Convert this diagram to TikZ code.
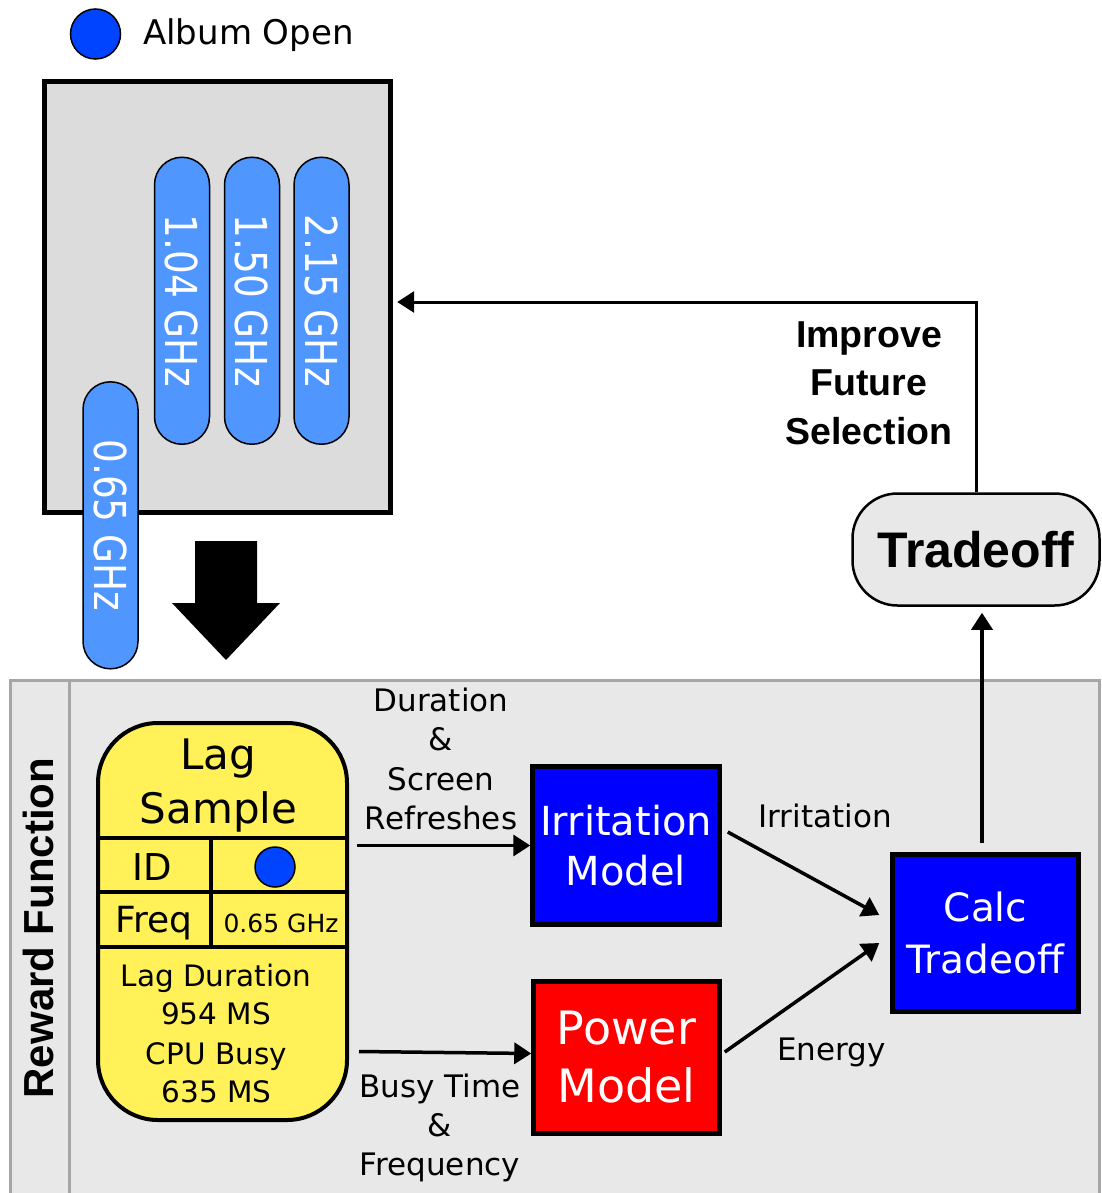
\documentclass[tikz,border=0pt]{standalone}
\usepackage{fontspec}
\setmainfont{DejaVu Sans}
\newfontfamily\arialfont{Liberation Sans}
\usetikzlibrary{arrows.meta,positioning,calc}

\definecolor{albumblue}{RGB}{0,68,255}
\definecolor{pillblue}{RGB}{80,150,255}
\definecolor{cpugray}{RGB}{220,220,220}
\definecolor{panelgray}{RGB}{232,232,232}
\definecolor{framegray}{RGB}{166,166,166}
\definecolor{lagyellow}{RGB}{255,241,87}

\newcommand{\fs}[2]{\fontsize{#1}{#2}\selectfont}

\begin{document}
\begin{tikzpicture}[x=1pt,y=-1pt,
    arr/.style={line width=3.5, -{Triangle[length=17pt,width=21pt]}},
    pill/.style={draw=black, line width=1.5, fill=pillblue, rounded corners=27.5,
        minimum width=287, minimum height=55, inner sep=0, rotate=-90,
        text=white, font=\fs{44}{50}},
    modelbox/.style={draw=black, line width=4.5, minimum width=187, minimum height=158,
        inner sep=0, text=white, align=center},
    lbl/.style={inner sep=0, align=center, font=\fs{31}{39.5}},
    plain/.style={anchor=base, inner sep=0},
    lagtxt/.style={inner sep=0, align=center, font=\fs{29.5}{38}}]

    \useasboundingbox (0,0) rectangle (1101,1193);
    \clip (0,0) rectangle (1101,1193);

    % Reward function panel
    \draw[framegray, line width=3, fill=panelgray] (10,680) rectangle (1099,1215);
    \draw[framegray, line width=3] (69,680) -- (69,1215);
    \node[rotate=90, inner sep=0, font=\arialfont\bfseries\fs{42}{50}] (rewardlbl) at (38,928) {Reward Function};

    % Legend
    \node[circle, draw, line width=1.5, fill=albumblue, minimum size=50, inner sep=0] (albumdot) at (95.5,34) {};
    \node[anchor=base west, inner sep=0, font=\fs{34}{40}] (albumlbl) at (143,45) {Album Open};

    % CPU box with frequencies
    \node[draw, line width=5, fill=cpugray, minimum width=346, minimum height=431, inner sep=0] (cpu) at (217.2,297) {};
    \node[pill] (f104) at (182,300.75) {\scalebox{0.85}[1]{1.04 GHz}};
    \node[pill] (f150) at (252,300.75) {\scalebox{0.85}[1]{1.50 GHz}};
    \node[pill] (f215) at (321.5,300.75) {\scalebox{0.85}[1]{2.15 GHz}};
    \node[pill] (f065) at (110.5,525.3) {\scalebox{0.85}[1]{0.65 GHz}};

    % Big arrow down
    \fill (195,541) -- (257,541) -- (257,603) -- (280,603) -- (226,660) -- (172,603) -- (195,603) -- cycle;

    % Lag sample
    \node[draw, line width=4, fill=lagyellow, rounded corners=60, minimum width=249, minimum height=397, inner sep=0] (lag) at (222.5,921.5) {};
    \draw[line width=4] (lag.west |- 0,838) -- (lag.east |- 0,838);
    \draw[line width=4] (lag.west |- 0,892) -- (lag.east |- 0,892);
    \draw[line width=4] (lag.west |- 0,947) -- (lag.east |- 0,947);
    \draw[line width=4] (211,838) -- (211,949);
    \node[inner sep=0, align=center, font=\fs{42}{54}] (lagtitle) at (218.5,786) {Lag\\Sample};
    \node[plain, font=\fs{37}{40}] (idlbl) at (152,880) {ID};
    \node[circle, draw, line width=1.5, fill=albumblue, minimum size=40, inner sep=0] (iddot) at (275,867) {};
    \node[plain, font=\fs{36}{40}] (freqlbl) at (154,932) {Freq};
    \node[plain, font=\fs{25}{30}] (freqval) at (281,932) {0.65 GHz};
    \node[lagtxt] (lagdur) at (216,994) {Lag Duration\\954 MS};
    \node[lagtxt] (cpubusy) at (216.5,1073) {CPU Busy\\635 MS};

    % Models
    \node[modelbox, fill=blue, font=\fs{40}{50}] (irr) at (626,845.5) {Irritation\\Model};
    \node[modelbox, fill=red, minimum width=186, minimum height=152, font=\fs{46}{58}] (pow) at (626.5,1057.5) {Power\\Model};
    \node[modelbox, fill=blue, minimum width=186, minimum height=157, font=\fs{39}{52}] (calcbox) at (985.5,933) {Calc\\Tradeoff};
    \node[draw, line width=2.5, fill=panelgray, rounded corners=45, minimum width=247, minimum height=112, inner sep=0,
        font=\arialfont\bfseries\fs{50}{60}] (trade) at (976,549.5) {Tradeoff};

    % Labels
    \node[lbl] (durlbl) at (441,759) {Duration\\\&\\Screen\\Refreshes};
    \node[lbl, font=\fs{31}{39}] (busylbl) at (440,1128) {Busy Time\\\&\\Frequency};
    \node[plain, font=\fs{31}{36}] (irrlbl) at (825,827) {Irritation};
    \node[plain, font=\fs{31}{36}] (energylbl) at (831.5,1060) {Energy};
    \node[inner sep=0, align=center, font=\arialfont\bfseries\fs{37.5}{48.5}] (improvelbl) at (869,383) {Improve\\Future\\Selection};

    % Connectors
    \draw[arr] ($(lag.east |- irr.west)+(8,0)$) -- (irr.west);
    \draw[arr] ($(lag.east |- pow.west)+(10,-6)$) -- ($(pow.west)+(0,-4)$);
    \draw[arr] ($(irr.east)+(6,-13.5)$) -- ($(calcbox.west)+(-11,-18)$);
    \draw[arr] ($(pow.east)+(3,-5.5)$) -- ($(calcbox.west)+(-11,10)$);
    \draw[arr] ($(calcbox.north)+(-3.5,-9)$) -- ($(calcbox.north |- trade.south)+(-3.5,6)$);
    \draw[arr, line width=3] (trade.north) |- ($(cpu.east)+(4.5,5)$);
\end{tikzpicture}
\end{document}
